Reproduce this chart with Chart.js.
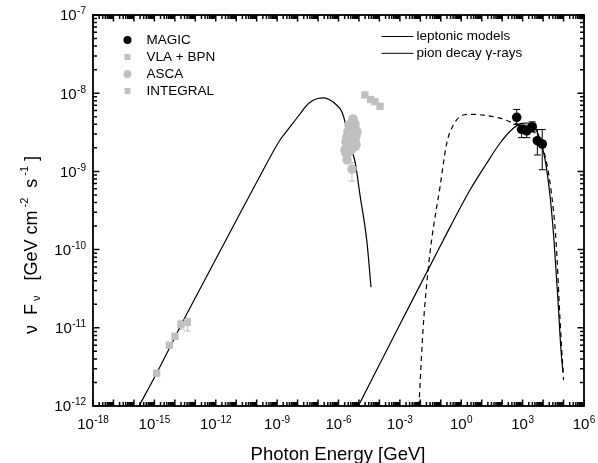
<!DOCTYPE html>
<html>
<head>
<meta charset="utf-8">
<script src="https://cdn.jsdelivr.net/npm/chart.js@4.4.0/dist/chart.umd.min.js"></script>
<style>
  body { margin: 0; background: #fff; }
  canvas { display: block; }
</style>
</head>
<body>
<canvas id="sedChart" width="598" height="463"></canvas>
<script>
// Valores (energia en GeV, flujo en GeV cm^-2 s^-1)
const xTickExps = [-18, -15, -12, -9, -6, -3, 0, 3, 6];
const yTickExps = [-12, -11, -10, -9, -8, -7];

const magicE = [513, 891, 1585, 2951, 5248, 9120];
const magicF = [4.92e-9, 3.45e-9, 3.29e-9, 3.73e-9, 2.47e-9, 2.24e-9];
const magicLo = [4.0e-9, 2.7e-9, 2.7e-9, 3.2e-9, 1.62e-9, 1.05e-9];
const magicHi = [6.2e-9, 3.9e-9, 3.9e-9, 4.3e-9, 3.43e-9, 3.43e-9];

const vlaE = [1.29e-15, 5.4e-15, 1.02e-14, 2.0e-14, 4.1e-14];
const vlaF = [2.63e-12, 6.0e-12, 7.8e-12, 1.1e-11, 1.17e-11];
const vlaLo = [2.5e-12, 5.6e-12, 7.3e-12, 9.6e-12, 9.1e-12];
const vlaHi = [2.75e-12, 6.4e-12, 8.3e-12, 1.25e-11, 1.33e-11];

const ascaE = [4.56e-6, 6.38e-6, 3.64e-6, 5.71e-6, 2.90e-6, 5.10e-6, 7.14e-6, 2.59e-6, 4.07e-6,
               6.38e-6, 2.32e-6, 3.64e-6, 5.71e-6, 2.59e-6, 4.56e-6, 2.07e-6, 3.25e-6, 6.38e-6,
               8.0e-6, 3.25e-6, 2.32e-6, 2.59e-6, 4.56e-6, 5.10e-6, 7.14e-6];
const ascaF = [4.29e-9, 4.04e-9, 3.70e-9, 3.48e-9, 3.19e-9, 3.01e-9, 2.84e-9, 2.75e-9, 2.59e-9,
               2.45e-9, 2.38e-9, 2.24e-9, 2.11e-9, 2.05e-9, 1.93e-9, 1.88e-9, 1.77e-9, 3.59e-9,
               3.19e-9, 3.92e-9, 1.72e-9, 1.40e-9, 1.07e-9, 4.68e-9, 2.18e-9];
const ascaLo = [null, null, null, null, null, null, null, null, null,
                2.2e-9, null, null, 1.85e-9, null, null, null, null, null,
                null, null, null, null, 7.5e-10, null, 1.9e-9];
const ascaHi = [null, null, null, null, null, null, null, null, null,
                2.7e-9, null, null, 2.4e-9, null, null, null, null, null,
                null, null, null, null, 1.3e-9, null, 2.5e-9];

const integralE = [1.95e-5, 3.7e-5, 6.0e-5, 1.07e-4];
const integralF = [9.5e-9, 8.3e-9, 7.8e-9, 6.8e-9];

// curva leptonica (sincrotron)
const syncE = [1.78e-16, 1.29e-15, 3.89e-14, 3.55e-12, 1.45e-10, 1.38e-9, 4.25e-9, 1.31e-8, 2.58e-8,
               5.06e-8, 9.93e-8, 1.95e-7, 3.84e-7, 7.53e-7, 1.48e-6, 2.34e-6, 3.63e-6, 6.46e-6,
               1.12e-5, 2.40e-5, 3.89e-5];
const syncF = [1.0e-12, 2.63e-12, 1.51e-11, 1.41e-10, 8.71e-10, 2.52e-9, 3.70e-9, 5.42e-9, 6.85e-9,
               7.94e-9, 8.55e-9, 8.69e-9, 8.18e-9, 7.18e-9, 5.75e-9, 3.80e-9, 2.19e-9, 1.32e-9,
               5.01e-10, 1.32e-10, 3.31e-11];

// curva leptonica (IC)
const icE = [9.33e-6, 1.0e-3, 0.132, 2.67, 17.5, 78.0, 349, 898, 1824, 4009, 7870, 1.38e4, 2.17e4,
             3.40e4, 5.33e4, 7.48e4, 9.36e4];
const icF = [1.0e-12, 1.10e-11, 1.32e-10, 5.78e-10, 1.27e-9, 2.29e-9, 3.56e-9, 4.12e-9, 4.16e-9,
             3.59e-9, 2.38e-9, 1.21e-9, 4.99e-10, 1.33e-10, 2.27e-11, 5.20e-12, 2.72e-12];

// rayos gamma de desintegracion de piones
const pionE = [8.51e-3, 1.38e-2, 2.45e-2, 3.55e-2, 9.12e-2, 0.195, 0.407, 0.871, 2.69, 12.0, 77.6,
               347, 1820, 7080, 1.38e4, 2.45e4, 4.27e4, 6.76e4, 1.0e5];
const pionF = [1.0e-12, 1.02e-11, 5.75e-11, 1.32e-10, 6.31e-10, 2.29e-9, 3.89e-9, 5.01e-9, 5.37e-9,
               5.25e-9, 4.79e-9, 4.17e-9, 3.55e-9, 2.51e-9, 1.41e-9, 5.75e-10, 1.32e-10, 1.26e-11,
               2.14e-12];

const GRAY = 'rgb(192, 192, 192)';
const FONT = '"Liberation Sans", Arial, sans-serif';

const pts = (xs, ys) => xs.map((x, i) => ({ x: x, y: ys[i] }));

function drawPow(ctx, exp, x, y, align) {
    ctx.font = '15px ' + FONT;
    const wBase = ctx.measureText('10').width;
    ctx.font = '10px ' + FONT;
    const sup = String(exp);
    const wSup = ctx.measureText(sup).width;
    const total = wBase + 0.5 + wSup;
    const x0 = align === 'center' ? x - total / 2 : x - total;
    ctx.textAlign = 'left';
    ctx.textBaseline = 'alphabetic';
    ctx.font = '15px ' + FONT;
    ctx.fillText('10', x0, y);
    ctx.font = '10px ' + FONT;
    ctx.fillText(sup, x0 + wBase + 0.5, y - 6);
}

// texto con sub/superindices, dibujado en secuencia
function drawPieces(ctx, pieces, cx, baseY) {
    let total = 0;
    pieces.forEach(p => {
        ctx.font = p.size + 'px ' + FONT;
        p.w = ctx.measureText(p.t).width;
        total += p.w;
    });
    let x = cx - total / 2;
    ctx.textAlign = 'left';
    ctx.textBaseline = 'alphabetic';
    pieces.forEach(p => {
        ctx.font = p.size + 'px ' + FONT;
        ctx.fillText(p.t, x, baseY + p.dy);
        x += p.w;
    });
}

// barras de error
const errorBars = {
    id: 'errorBars',
    beforeDatasetsDraw(chart) {
        const ctx = chart.ctx;
        const xs = chart.scales.x, ys = chart.scales.y;
        ctx.save();
        chart.data.datasets.forEach(ds => {
            if (!ds.errLo) return;
            ctx.strokeStyle = ds.borderColor === '#000' ? '#000' : GRAY;
            ctx.lineWidth = 1;
            ds.data.forEach((p, i) => {
                const lo = ds.errLo[i], hi = ds.errHi[i];
                if (lo == null) return;
                const px = xs.getPixelForValue(p.x);
                const yl = ys.getPixelForValue(lo), yh = ys.getPixelForValue(hi);
                ctx.beginPath();
                ctx.moveTo(px, yl); ctx.lineTo(px, yh);
                ctx.moveTo(px - 3.5, yl); ctx.lineTo(px + 3.5, yl);
                ctx.moveTo(px - 3.5, yh); ctx.lineTo(px + 3.5, yh);
                ctx.stroke();
            });
        });
        ctx.restore();
    }
};

// marcas hacia dentro en los cuatro lados
const axisTicks = {
    id: 'axisTicks',
    afterDatasetsDraw(chart) {
        const ctx = chart.ctx;
        const xs = chart.scales.x, ys = chart.scales.y;
        const left = xs.left, right = xs.right, top = ys.top, bottom = ys.bottom;
        ctx.save();
        ctx.setLineDash([]);
        ctx.strokeStyle = '#000';
        ctx.lineWidth = 1.5;
        ctx.beginPath();
        for (let d = -18; d <= 6; d++) {
            for (let k = 1; k <= 9; k++) {
                if (d === 6 && k > 1) break;
                const px = xs.getPixelForValue(k * Math.pow(10, d));
                const len = k === 1 ? 6.5 : 4;
                ctx.moveTo(px, bottom);
                ctx.lineTo(px, bottom - len);
                ctx.moveTo(px, top);
                ctx.lineTo(px, top + len);
            }
        }
        for (let d = -12; d <= -7; d++) {
            for (let k = 1; k <= 9; k++) {
                if (d === -7 && k > 1) break;
                const py = ys.getPixelForValue(k * Math.pow(10, d));
                const len = k === 1 ? 6.5 : 4;
                ctx.moveTo(left, py);
                ctx.lineTo(left + len, py);
                ctx.moveTo(right, py);
                ctx.lineTo(right - len, py);
            }
        }
        ctx.stroke();
        ctx.restore();
    }
};

// marco, etiquetas, titulos y leyendas
const decor = {
    id: 'decor',
    afterDraw(chart) {
        const ctx = chart.ctx;
        const a = chart.chartArea;
        const xs = chart.scales.x, ys = chart.scales.y;
        ctx.save();
        ctx.strokeStyle = '#000';
        ctx.fillStyle = '#000';

        ctx.lineWidth = 1.8;
        ctx.strokeRect(a.left, a.top, a.right - a.left, a.bottom - a.top);

        // etiquetas de los ejes
        xTickExps.forEach(e => drawPow(ctx, e, xs.getPixelForValue(Math.pow(10, e)), 429, 'center'));
        yTickExps.forEach(e => drawPow(ctx, e, 86, ys.getPixelForValue(Math.pow(10, e)) + 5.4, 'right'));

        // titulo eje X
        ctx.font = '18.5px ' + FONT;
        ctx.textAlign = 'center';
        ctx.textBaseline = 'alphabetic';
        ctx.fillText('Photon Energy [GeV]', 338, 459.5);

        // titulo eje Y (girado)
        ctx.save();
        ctx.translate(36.5, 245);
        ctx.rotate(-Math.PI / 2);
        drawPieces(ctx, [
            { t: 'ν  F', size: 18, dy: 0 },
            { t: ' ν', size: 11, dy: 3 },
            { t: '   [GeV cm', size: 18, dy: 0 },
            { t: ' -2', size: 11, dy: -9 },
            { t: '  s', size: 18, dy: 0 },
            { t: ' -1', size: 11, dy: -9 },
            { t: ' ]', size: 18, dy: 0 }
        ], 0, 0);
        ctx.restore();

        // leyenda de datos
        const legendRows = [
            { label: 'MAGIC', color: '#000', shape: 'circle' },
            { label: 'VLA + BPN', color: GRAY, shape: 'rect' },
            { label: 'ASCA', color: GRAY, shape: 'circle' },
            { label: 'INTEGRAL', color: GRAY, shape: 'rect' }
        ];
        ctx.font = '13.5px ' + FONT;
        ctx.textAlign = 'left';
        ctx.textBaseline = 'middle';
        legendRows.forEach((r, i) => {
            const y = 40 + i * 17;
            ctx.fillStyle = r.color;
            if (r.shape === 'circle') {
                ctx.beginPath();
                ctx.arc(127.5, y, 4, 0, Math.PI * 2);
                ctx.fill();
            } else {
                ctx.fillRect(124.5, y - 3, 6, 6);
            }
            ctx.fillStyle = '#000';
            ctx.fillText(r.label, 146.5, y);
        });

        // leyenda de modelos
        ['leptonic models', 'pion decay γ-rays'].forEach((t, i) => {
            const y = 36.5 + i * 16.8;
            ctx.lineWidth = 1;
            ctx.beginPath();
            ctx.moveTo(381.5, y); ctx.lineTo(413.5, y);
            ctx.stroke();
            ctx.fillText(t, 416.5, y);
        });
        ctx.restore();
    }
};

function createSedChart() {
    const ctx = document.getElementById('sedChart').getContext('2d');
    const curve = { showLine: true, pointRadius: 0, borderColor: '#000', borderWidth: 1.2,
                    cubicInterpolationMode: 'monotone', fill: false };
    new Chart(ctx, {
        type: 'scatter',
        data: {
            datasets: [
                { label: 'MAGIC', data: pts(magicE, magicF), pointStyle: 'circle', pointRadius: 4.8,
                  backgroundColor: '#000', borderColor: '#000', pointBorderWidth: 0,
                  errLo: magicLo, errHi: magicHi },
                { label: 'VLA + BPN', data: pts(vlaE, vlaF), pointStyle: 'rect', pointRadius: 5.2,
                  backgroundColor: GRAY, borderColor: GRAY, pointBorderWidth: 0,
                  errLo: vlaLo, errHi: vlaHi },
                { label: 'ASCA', data: pts(ascaE, ascaF), pointStyle: 'circle', pointRadius: 4.8,
                  backgroundColor: GRAY, borderColor: GRAY, pointBorderWidth: 0,
                  errLo: ascaLo, errHi: ascaHi },
                { label: 'INTEGRAL', data: pts(integralE, integralF), pointStyle: 'rect', pointRadius: 5.2,
                  backgroundColor: GRAY, borderColor: GRAY, pointBorderWidth: 0 },
                Object.assign({ label: 'leptonic models', data: pts(syncE, syncF) }, curve),
                Object.assign({ label: 'leptonic models IC', data: pts(icE, icF) }, curve),
                Object.assign({ label: 'pion decay', data: pts(pionE, pionF), borderDash: [5, 4] }, curve)
            ]
        },
        options: {
            responsive: false,
            animation: false,
            events: [],
            layout: { padding: { left: 93, right: 14, top: 15, bottom: 57 } },
            plugins: { legend: { display: false }, tooltip: { enabled: false } },
            scales: {
                x: { type: 'logarithmic', min: 1e-18, max: 1e6, display: false },
                y: { type: 'logarithmic', min: 1e-12, max: 1e-7, display: false }
            }
        },
        plugins: [errorBars, axisTicks, decor]
    });
}

document.addEventListener('DOMContentLoaded', createSedChart);
</script>
</body>
</html>
